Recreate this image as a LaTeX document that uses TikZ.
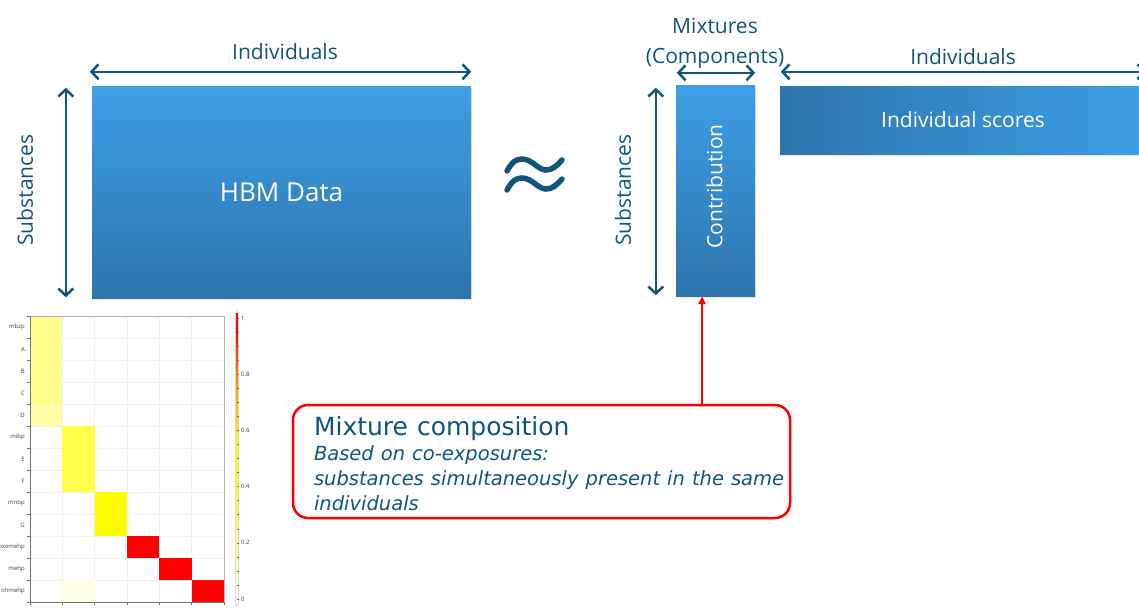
\documentclass[tikz,border=0pt]{standalone}
\usepackage{fontspec}
\setmainfont{Open Sans}
\newfontfamily\notefont{DejaVu Sans}
\usepackage{tikz}
\usetikzlibrary{arrows.meta,positioning,shadows}
\definecolor{ink}{HTML}{0F5678}
\definecolor{bluetop}{HTML}{3E9EE5}
\definecolor{bluebot}{HTML}{2D75AD}
\definecolor{alarm}{HTML}{FF0000}
\definecolor{hmA}{HTML}{FFFF8E}
\definecolor{hmAl}{HTML}{FFFFA8}
\definecolor{hmB}{HTML}{FFFF4E}
\definecolor{hmC}{HTML}{FFFF00}
\definecolor{hmD}{HTML}{FF0000}
\definecolor{hmE}{HTML}{FFFFE4}
\definecolor{hmO}{HTML}{FF8000}
\definecolor{hmY}{HTML}{FFD400}
\tikzset{mat/.style={inner sep=0pt,top color=bluetop,bottom color=bluebot,text=white,font=\fontsize{21}{25}\selectfont,drop shadow={opacity=0.18,shadow xshift=1pt,shadow yshift=-2pt}},lab/.style={text=ink,font=\fontsize{21}{30}\selectfont,inner sep=0pt,align=center},dim/.style={{Straight Barb[length=7pt,width=15pt]}-{Straight Barb[length=7pt,width=15pt]},line width=2.5pt,draw=ink},wave/.style={draw=ink,line width=5.5pt,line cap=round},note/.style={draw=alarm,line width=2.5pt,rounded corners=15pt,text=ink,align=left,inner xsep=21pt,inner ysep=0pt},link/.style={-{Triangle[length=8pt,width=7pt]},line width=2pt,draw=alarm},hmgrid/.style={draw=black!6,line width=0.6pt},hmframe/.style={draw=black!30,line width=1pt},hmaxis/.style={draw=black!55,line width=0.8pt},hmlab/.style={font=\fontsize{6}{6}\selectfont,text=black!75,inner sep=0pt}}

\begin{document}
\begin{tikzpicture}[x=1pt,y=-1pt]
\useasboundingbox (0,0) rectangle (1139,610);
\clip (0,0) rectangle (1139,610);
\node[mat,minimum width=379pt,minimum height=212pt,font=\fontsize{26}{30}\selectfont] (hbm) at (281.5,192) {HBM Data};
\draw[dim] ([yshift=14pt,xshift=-2pt]hbm.north west) -- ([yshift=14pt]hbm.north east);
\node[lab] (indiv) at (285,52) {Individuals};
\draw[dim] ([xshift=-26pt,yshift=-2pt]hbm.north west) -- ([xshift=-26pt,yshift=1pt]hbm.south west);
\node[lab,rotate=90] (subst) at (25,190) {Substances};
\foreach \dy in {0,19}
  \draw[wave] (507,171+\dy) .. controls (512,162+\dy) and (516,159+\dy) .. (522,159+\dy) .. controls (532,159+\dy) and (538,170+\dy) .. (546,170+\dy) .. controls (552,170+\dy) and (557,166+\dy) .. (562,160+\dy);
\node[mat,minimum width=79pt,minimum height=211pt] (contrib) at (715.5,190.5) {};
\node[lab,rotate=90,text=white] (contribtxt) at ([xshift=-1pt,yshift=4pt]contrib.center) {Contribution};
\draw[dim] ([xshift=-20pt,yshift=-3pt]contrib.north west) -- ([xshift=-20pt,yshift=1pt]contrib.south west);
\node[lab,rotate=90] (subst2) at (623,190) {Substances};
\draw[dim] ([yshift=12pt,xshift=1pt]contrib.north west) -- ([yshift=12pt]contrib.north east);
\node[lab] (mixt) at (715,43) {Mixtures\\(Components)};
\node[mat,left color=bluebot,right color=bluetop,minimum width=366pt,minimum height=68pt] (scores) at (963,120) {Individual scores};
\draw[dim] ([yshift=14pt,xshift=1pt]scores.north west) -- ([yshift=14pt]scores.north east);
\node[lab] (indiv2) at (963,57) {Individuals};
\node[note,text width=455pt,minimum height=113pt] (note) at (541.5,461.5) {\notefont\fontsize{19.5}{25}\selectfont\spaceskip=0.36em\begin{tabular}{@{}l@{}}\rule{0pt}{29.5pt}{\fontsize{25}{25}\selectfont\spaceskip=0.36em Mixture composition}\\\itshape Based on co-exposures:\\\itshape substances simultaneously present in the same\\\itshape individuals\end{tabular}};
\coordinate (tip) at ([xshift=-13.5pt]contrib.south);
\draw[link] (note.north -| tip) -- (tip);
\fill[white] (30,316) rectangle (224,602);
\foreach \i in {1,...,5} \draw[hmgrid] ({30+\i*32.33},316) -- ++(0,286);
\foreach \r in {1,...,12} \draw[hmgrid] (30,{316+\r*22}) -- ++(194,0);
\foreach \c/\r/\col in {1/1/hmA,1/2/hmA,1/3/hmA,1/4/hmA,1/5/hmAl,2/6/hmB,2/7/hmB,2/8/hmB,3/9/hmC,3/10/hmC,4/11/hmD,5/12/hmD,6/13/hmD,2/13/hmE}
  \fill[\col] ({30+(\c-1)*32.33},{316+(\r-1)*22}) rectangle ++(32.33,22);
\draw[hmframe] (30,316) -- (224,316) -- (224,602);
\draw[hmaxis] (30,316) -- (30,604);
\draw[hmaxis] (30,602) -- (224,602);
\foreach \r in {0,...,13} \draw[hmaxis] (30,{316+\r*22}) -- ++(-3,0);
\foreach \i in {0,...,6} \draw[hmaxis] ({30+\i*32.33},602) -- ++(0,3);
\foreach \name [count=\r] in {mbzp,A,B,C,D,mibp,E,F,mnbp,G,oxomehp,mehp,ohmehp}
  \node[hmlab,anchor=east] (row\r) at (25,{316+(\r-0.5)*22}) {\name};
\shade[bottom color=white,top color=hmC] (235,605) rectangle (238.5,481);
\fill[hmC] (235,481) rectangle (238.5,444);
\shade[bottom color=hmC,top color=hmY] (235,444) rectangle (238.5,420);
\shade[bottom color=hmY,top color=hmO] (235,420) rectangle (238.5,374);
\shade[bottom color=hmO,top color=hmD] (235,374) rectangle (238.5,330);
\fill[hmD] (235,330) rectangle (238.5,312);
\draw[draw=black!15,line width=0.4pt] (235,312) rectangle (238.5,605);
\foreach \v in {0,0.05,...,1.01} \draw[draw=black!60,line width=0.5pt] (238.5,{599-281*\v}) -- ++(-1.5,0);
\foreach \v/\t [count=\k] in {0/0,0.2/0.2,0.4/0.4,0.6/0.6,0.8/0.8,1/1}
  \node[hmlab,anchor=west] (cbl\k) at (241,{599-281*\v}) {\t};
\end{tikzpicture}
\end{document}
